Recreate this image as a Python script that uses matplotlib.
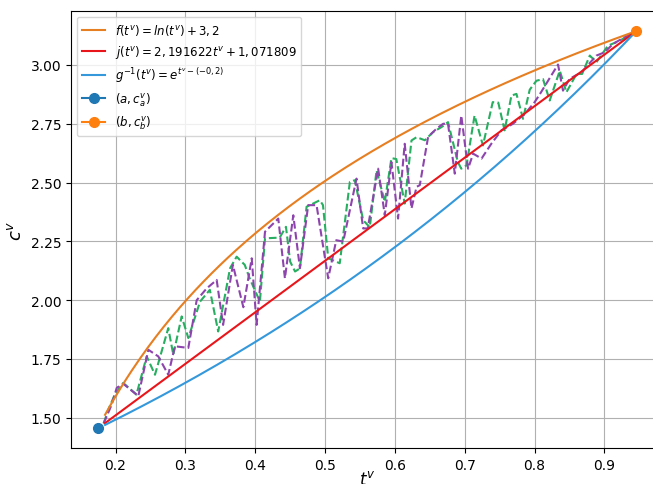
import matplotlib
matplotlib.use("Agg")
import matplotlib.pyplot as plt
import numpy as np

# endpoints
a, ca = 0.175, 1.457
b, cb = 0.945, 3.143

# dashed paths
green_t = [0.183, 0.1897, 0.199, 0.211, 0.230, 0.2446, 0.2565, 0.2755, 0.2827, 0.2947,
           0.3042, 0.321, 0.335, 0.347, 0.364, 0.3734, 0.385, 0.392, 0.4067, 0.414,
           0.435, 0.444, 0.450, 0.457, 0.464, 0.4735, 0.4925, 0.497, 0.5045, 0.521,
           0.5355, 0.5426, 0.5545, 0.564, 0.5737, 0.5855, 0.595, 0.602, 0.614, 0.6237,
           0.631, 0.6428, 0.6547, 0.6667, 0.676, 0.690, 0.695, 0.7024, 0.714, 0.726,
           0.740, 0.748, 0.757, 0.7668, 0.774, 0.7834, 0.793, 0.8026, 0.812, 0.8216,
           0.836, 0.8455, 0.86, 0.868, 0.879, 0.8885, 0.905, 0.9217, 0.945]
green_c = [1.476, 1.535, 1.599, 1.648, 1.599, 1.761, 1.683, 1.881, 1.768, 1.931,
           1.839, 1.994, 2.044, 1.867, 2.136, 2.185, 2.15, 2.093, 1.994, 2.263,
           2.266, 2.312, 2.164, 2.122, 2.135, 2.397, 2.425, 2.404, 2.178, 2.157,
           2.503, 2.51, 2.34, 2.31, 2.552, 2.418, 2.604, 2.60, 2.411, 2.679,
           2.693, 2.68, 2.715, 2.736, 2.757, 2.588, 2.559, 2.573, 2.785, 2.658,
           2.842, 2.84, 2.722, 2.870, 2.877, 2.771, 2.895, 2.933, 2.94, 2.849,
           2.976, 2.884, 2.962, 2.962, 3.04, 3.012, 3.082, 3.103, 3.143]

purple_t = [0.183, 0.1945, 0.2017, 0.211, 0.2326, 0.247, 0.2612, 0.2755, 0.285, 0.3042,
            0.3162, 0.3305, 0.3448, 0.354, 0.368, 0.383, 0.395, 0.402, 0.414, 0.433,
            0.4425, 0.4545, 0.464, 0.4758, 0.4878, 0.5045, 0.516, 0.526, 0.545, 0.5545,
            0.561, 0.576, 0.5855, 0.595, 0.6045, 0.614, 0.6237, 0.631, 0.6356, 0.6475,
            0.6595, 0.669, 0.676, 0.6857, 0.695, 0.7047, 0.712, 0.724, 0.738, 0.7525,
            0.769, 0.786, 0.800, 0.8073, 0.8335, 0.8406, 0.850, 0.867, 0.8885, 0.9003,
            0.912, 0.924, 0.945]
purple_c = [1.476, 1.556, 1.627, 1.645, 1.592, 1.789, 1.761, 1.683, 1.804, 1.797,
            2.0, 2.05, 2.086, 1.895, 2.15, 1.97, 2.178, 1.895, 2.291, 2.347,
            2.093, 2.361, 2.136, 2.404, 2.404, 2.093, 2.255, 2.249, 2.517, 2.305,
            2.305, 2.559, 2.361, 2.587, 2.347, 2.665, 2.39, 2.482, 2.489, 2.694,
            2.729, 2.75, 2.75, 2.538, 2.785, 2.559, 2.623, 2.602, 2.665, 2.722,
            2.75, 2.792, 2.842, 2.875, 3.002, 2.891, 2.941, 2.969, 3.04, 3.054,
            3.089, 3.11, 3.143]

t = np.linspace(0.185, b, 200)

fig = plt.figure(figsize=(6.53, 4.85), dpi=100)
ax = fig.add_axes([0.109, 0.074, 0.906, 0.901])

ax.plot(green_t, green_c, "--", color="#27ae60", lw=1.5)
ax.plot(purple_t, purple_c, "--", color="#8e44ad", lw=1.5)

ax.plot(t, np.log(t) + 3.2, color="#e67e22", lw=1.5, label=r"$f(t^v) = ln(t^v) + 3,2$")
ax.plot(t, 2.191622 * t + 1.071809, color="#e8161b", lw=1.5,
        label=r"$j(t^v) = 2,191622t^v + 1,071809$")
ax.plot(t, np.exp(t + 0.2), color="#3498db", lw=1.5, label=r"$g^{-1}(t^v) = e^{t^v-(-0,2)}$")
ax.plot([a], [ca], marker="o", ms=7, color="#1f77b4", label=r"$(a, c_a^v)$")
ax.plot([b], [cb], marker="o", ms=7, color="#ff7f0e", label=r"$(b, c_b^v)$")

ax.set_xlim(0.1365, 0.9835)
ax.set_ylim(1.371, 3.229)
ax.set_xlabel(r"$t^v$", fontsize=12, labelpad=-1)
ax.set_ylabel(r"$c^v$", fontsize=13)
ax.grid(True)
ax.legend(loc="upper left", fontsize=8.5)

fig.savefig("out.png", dpi=100)
